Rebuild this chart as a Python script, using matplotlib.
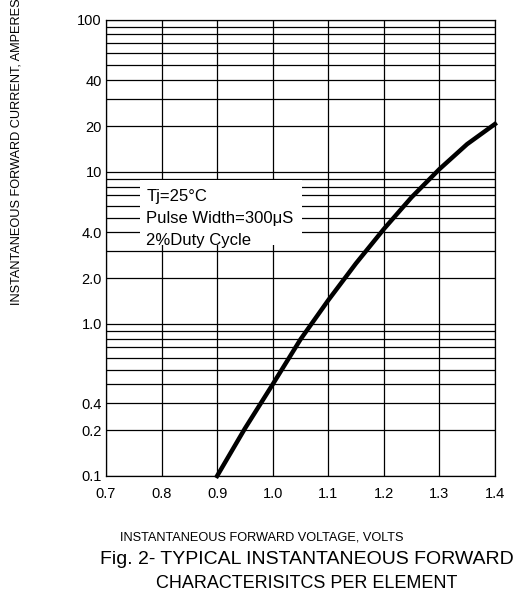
import matplotlib.pyplot as plt
import matplotlib.patches as patches
import matplotlib.ticker as ticker

plt.rcParams['font.family'] = ['Liberation Sans', 'DejaVu Sans']

# forward voltage (V) vs forward current (A)
volts = [0.9, 0.95, 1.0, 1.05, 1.1, 1.15, 1.2, 1.25, 1.3, 1.35, 1.4]
amps = [0.1, 0.205, 0.40, 0.79, 1.43, 2.5, 4.2, 6.8, 10.4, 15.2, 20.6]

x_ticks = [0.7, 0.8, 0.9, 1.0, 1.1, 1.2, 1.3, 1.4]
x_labels = ["0.7", "0.8", "0.9", "1.0", "1.1", "1.2", "1.3", "1.4"]

# labelled gridlines (the original sheet prints "0.4" on the 0.3 line)
y_label_pos = [0.1, 0.2, 0.3, 1, 2, 4, 10, 20, 40, 100]
y_labels = ["0.1", "0.2", "0.4", "1.0", "2.0", "4.0", "10", "20", "40", "100"]

fig = plt.figure(figsize=(5.18, 6.01), dpi=100)
ax = fig.add_axes([0.2046, 0.208, 0.7508, 0.7592])

ax.set_yscale("log")
ax.set_xlim(0.7, 1.4)
ax.set_ylim(0.1, 100)

# every 1..9 x decade gets a line
grid_vals = [round(m * d, 3) for d in (0.1, 1, 10) for m in range(1, 10)] + [100]
ax.yaxis.set_minor_locator(ticker.NullLocator())
ax.set_yticks(grid_vals)
ax.set_yticklabels([y_labels[y_label_pos.index(v)] if v in y_label_pos else "" for v in grid_vals])
ax.set_xticks(x_ticks)
ax.set_xticklabels(x_labels)
ax.tick_params(length=0, labelsize=10.5)
ax.tick_params(axis="x", pad=8)
ax.tick_params(axis="y", pad=3)

ax.set_axisbelow(True)
ax.grid(True, color="black", linewidth=0.9)
for s in ax.spines.values():
    s.set_linewidth(0.9)

# white box behind the test conditions
ax.add_patch(patches.Rectangle((0.087, 0.506), 0.4166, 0.142, transform=ax.transAxes,
                               facecolor="white", edgecolor="none", zorder=1))
ax.text(0.104, 0.612, "Tj=25°C", transform=ax.transAxes, fontsize=12, va="center", zorder=2)
ax.text(0.104, 0.565, "Pulse Width=300μS", transform=ax.transAxes, fontsize=12, va="center", zorder=2)
ax.text(0.104, 0.517, "2%Duty Cycle", transform=ax.transAxes, fontsize=12, va="center", zorder=2)

ax.plot(volts, amps, color="black", linewidth=3.2, zorder=3, clip_on=False,
        solid_joinstyle="round")

fig.text(17 / 518, 1 - 152 / 601, "INSTANTANEOUS FORWARD CURRENT, AMPERES", rotation=90,
         ha="center", va="center", fontsize=9.2)
fig.text(262 / 518, 1 - 538 / 601, "INSTANTANEOUS FORWARD VOLTAGE, VOLTS",
         ha="center", va="center", fontsize=9.2)
fig.text(307 / 518, 1 - 560 / 601, "Fig. 2- TYPICAL INSTANTANEOUS FORWARD",
         ha="center", va="center", fontsize=14)
fig.text(307 / 518, 1 - 583 / 601, "CHARACTERISITCS PER ELEMENT",
         ha="center", va="center", fontsize=13)

fig.savefig("out.png", dpi=100)
